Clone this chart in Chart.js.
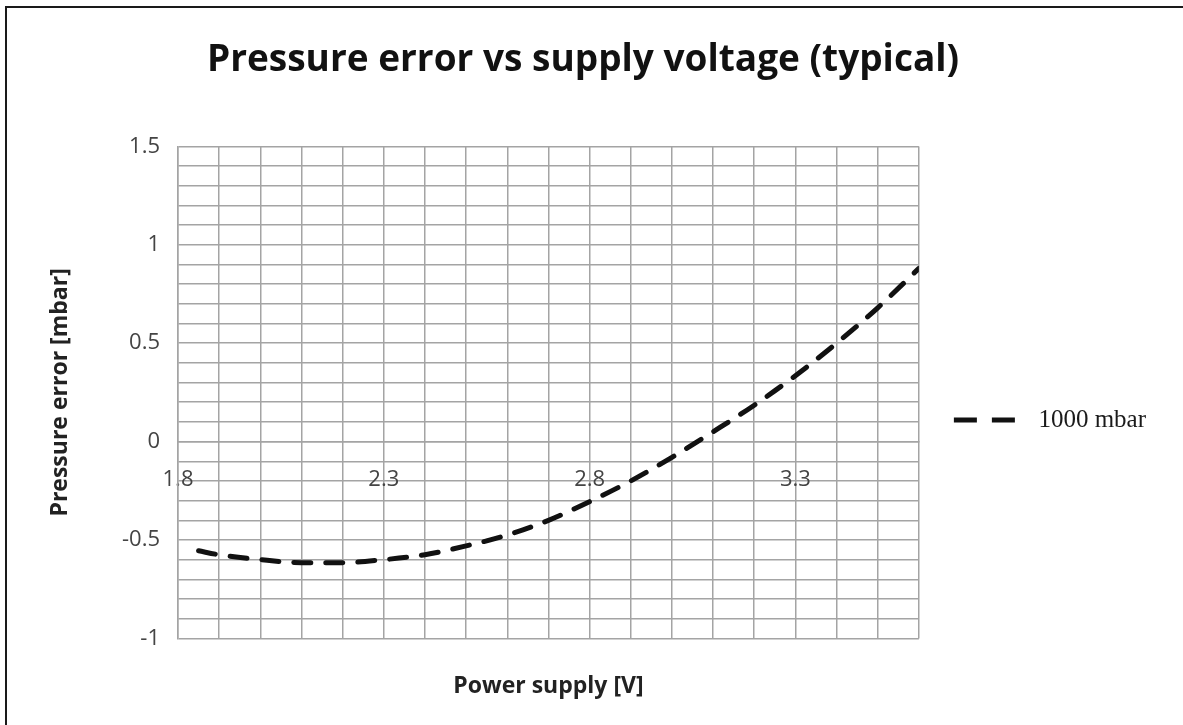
<!DOCTYPE html>
<html>
<head>
<meta charset="utf-8">
<script src="https://cdn.jsdelivr.net/npm/chart.js@4/dist/chart.umd.min.js"></script>
<style>
    html, body { margin: 0; padding: 0; background: #fff; overflow: hidden; }
    .frame { position: absolute; left: 5px; top: 6px; width: 1200px; height: 740px; border: 2px solid #1a1a1a; }
    .chart-box { position: absolute; left: 0; top: 0; width: 1183px; height: 725px; }
</style>
</head>
<body>
<div class="frame"></div>
<div class="chart-box"><canvas id="errorChart"></canvas></div>
<script>
// dados
const voltage = [1.85, 1.9, 2.0, 2.1, 2.2, 2.3, 2.4, 2.5, 2.6, 2.7, 2.8, 2.9, 3.0, 3.1, 3.2, 3.3, 3.4, 3.5, 3.6];
const error1000 = [-0.555, -0.575, -0.6, -0.615, -0.615, -0.6, -0.575, -0.53, -0.475, -0.4, -0.305, -0.2, -0.08, 0.05, 0.185, 0.335, 0.5, 0.68, 0.88];
const xTickLabels = [1.8, 2.3, 2.8, 3.3];
const yTickLabels = [-1, -0.5, 0, 0.5, 1, 1.5];

const gridColor = '#a4a4a4';
const tickFont = { family: 'Open Sans', size: 22 };
const titleFont = { family: 'Open Sans', size: 23, weight: 'bold' };

function showLabel(list, value) {
    const hit = list.find(v => Math.abs(v - value) < 1e-6);
    return hit === undefined ? '' : String(hit);
}

const ctx = document.getElementById('errorChart').getContext('2d');
new Chart(ctx, {
    type: 'scatter',
    data: {
        datasets: [{
            label: '1000 mbar',
            data: voltage.map((v, i) => ({ x: v, y: error1000[i] })),
            showLine: true,
            borderColor: '#111',
            backgroundColor: '#111',
            borderWidth: 5,
            borderDash: [17, 15],
            borderCapStyle: 'round',
            cubicInterpolationMode: 'monotone',
            pointRadius: 0,
            pointHoverRadius: 0
        }]
    },
    options: {
        responsive: true,
        maintainAspectRatio: false,
        animation: false,
        layout: { padding: { left: 10, right: 27, top: 20, bottom: 25 } },
        plugins: {
            tooltip: { enabled: false },
            title: {
                display: true,
                text: 'Pressure error vs supply voltage (typical)',
                color: '#111',
                font: { family: 'Open Sans', size: 37, weight: 'bold' },
                padding: { top: 18, bottom: 64 }
            },
            legend: {
                position: 'right',
                title: { display: true, text: '', font: { size: 10 }, padding: { top: 54, bottom: 54 } },
                labels: {
                    usePointStyle: true,
                    pointStyle: 'line',
                    pointStyleWidth: 72,
                    padding: 35,
                    color: '#1a1a1a',
                    font: { family: 'Liberation Serif', size: 25 },
                    generateLabels: chart => {
                        const items = Chart.defaults.plugins.legend.labels.generateLabels(chart);
                        items.forEach(item => {
                            const ds = chart.data.datasets[item.datasetIndex];
                            item.strokeStyle = ds.borderColor;
                            item.lineWidth = ds.borderWidth;
                            item.lineCap = 'butt';
                            item.lineDash = [23, 15, 23, 50];
                        });
                        return items;
                    }
                }
            }
        },
        scales: {
            x: {
                type: 'linear',
                min: 1.8,
                max: 3.6,
                position: { y: 0 },
                grid: { color: gridColor, lineWidth: 1.5, drawTicks: false },
                border: { color: gridColor, width: 1.5 },
                ticks: {
                    stepSize: 0.1,
                    autoSkip: false,
                    maxRotation: 0,
                    padding: 25,
                    color: '#444',
                    font: tickFont,
                    callback: v => showLabel(xTickLabels, v)
                }
            },
            x2: {
                type: 'linear',
                position: 'bottom',
                min: 1.8,
                max: 3.6,
                grid: { display: false, drawTicks: false },
                border: { display: false },
                ticks: { display: false },
                title: { display: true, text: 'Power supply [V]', color: '#222', font: titleFont, padding: { top: 34, bottom: 0 } }
            },
            y: {
                min: -1,
                max: 1.5,
                grid: { color: gridColor, lineWidth: 1.5, drawTicks: false },
                border: { color: gridColor, width: 1.5 },
                ticks: {
                    stepSize: 0.1,
                    autoSkip: false,
                    padding: 18,
                    color: '#444',
                    font: tickFont,
                    callback: v => showLabel(yTickLabels, v)
                },
                title: { display: true, text: 'Pressure error [mbar]', color: '#222', font: titleFont, padding: { top: 37, bottom: 0 } },
                afterFit: scale => { scale.width = 168; }
            }
        }
    }
});
</script>
</body>
</html>
